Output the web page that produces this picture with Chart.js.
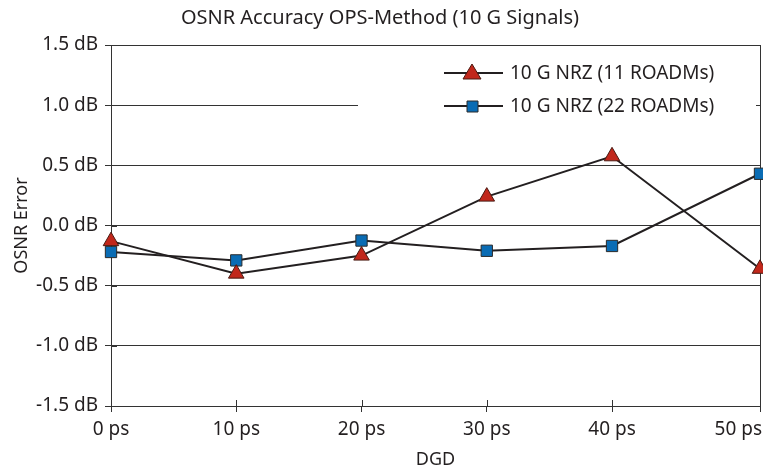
<!DOCTYPE html>
<html>
<head>
<meta charset="utf-8">
<script src="https://cdn.jsdelivr.net/npm/chart.js@4/dist/chart.umd.min.js"></script>
<style>
  html, body { margin: 0; padding: 0; background: #fff; }
  #wrap { width: 763px; height: 471px; }
</style>
</head>
<body>
<div id="wrap"><canvas id="chart"></canvas></div>
<script>
// DGD values (ps)
const dgd = [0, 10, 20, 30, 40, 50];
// OSNR error (dB)
const nrz11 = [-0.13, -0.40, -0.25, 0.24, 0.575, -0.36];
const nrz22 = [-0.22, -0.29, -0.125, -0.21, -0.17, 0.43];
const seriesNames = ['10 G NRZ (11 ROADMs)', '10 G NRZ (22 ROADMs)'];
const yTicks = [-1.5, -1.0, -0.5, 0.0, 0.5, 1.0, 1.5];

const lineColor = '#231f20';
const axisColor = '#333333';
const font = '"Noto Sans", "Open Sans", sans-serif';

// in the original the last step (40 -> 50 ps) is drawn wider than the others
class StretchScale extends Chart.LinearScale {
  getPixelForValue(value) {
    const knee = 40, share = 0.772;
    const f = value <= knee
      ? (value - this.min) / (knee - this.min) * share
      : share + (value - knee) / (this.max - knee) * (1 - share);
    return this.getPixelForDecimal(f);
  }
  getValueForPixel(pixel) {
    const knee = 40, share = 0.772;
    const f = this.getDecimalForPixel(pixel);
    return f <= share
      ? this.min + f / share * (knee - this.min)
      : knee + (f - share) / (1 - share) * (this.max - knee);
  }
}
StretchScale.id = 'stretch';
StretchScale.defaults = Chart.LinearScale.defaults;
Chart.register(StretchScale);

// white patch behind the legend (hides the 1.0 dB grid line on the right) + legend
const legendBox = {
  id: 'legendBox',
  beforeDatasetsDraw(chart) {
    const { ctx } = chart;
    const y = chart.scales.y.getPixelForValue(1.0);
    ctx.save();
    ctx.fillStyle = '#fff';
    ctx.fillRect(358, y - 3, 398, 6);
    ctx.restore();
  },
  afterDraw(chart) {
    const { ctx } = chart;
    ctx.save();
    const rows = [73, 106];
    chart.data.datasets.forEach((ds, i) => {
      const y = rows[i];
      ctx.strokeStyle = lineColor;
      ctx.lineWidth = 2;
      ctx.beginPath();
      ctx.moveTo(444, y);
      ctx.lineTo(503, y);
      ctx.stroke();
      ctx.fillStyle = ds.pointBackgroundColor;
      ctx.strokeStyle = ds.pointBorderColor;
      ctx.lineWidth = 1;
      ctx.beginPath();
      if (ds.pointStyle === 'triangle') {
        ctx.moveTo(472, y - 9);
        ctx.lineTo(481, y + 6);
        ctx.lineTo(463, y + 6);
        ctx.closePath();
      } else {
        ctx.rect(467, y - 5, 11, 11);
      }
      ctx.fill();
      ctx.stroke();
      ctx.fillStyle = lineColor;
      ctx.font = '19px ' + font;
      ctx.textBaseline = 'middle';
      ctx.fillText(ds.label, 510, y + 1);
    });
    ctx.restore();
  }
};

// small tick marks on the inside of both axes, and the x tick labels
// (last label right-aligned to its tick, as in the original)
const axisExtras = {
  id: 'axisExtras',
  afterDatasetsDraw(chart) {
    const { ctx, scales } = chart;
    ctx.save();
    ctx.strokeStyle = axisColor;
    ctx.lineWidth = 1;
    const bottom = scales.y.getPixelForValue(-1.5);
    scales.x.ticks.forEach(t => {
      const x = Math.round(scales.x.getPixelForValue(t.value)) + 0.5;
      ctx.beginPath();
      ctx.moveTo(x, bottom);
      ctx.lineTo(x, bottom - 6);
      ctx.stroke();
    });
    const left = scales.x.getPixelForValue(0);
    scales.y.ticks.forEach(t => {
      const y = Math.round(scales.y.getPixelForValue(t.value)) + 0.5;
      ctx.beginPath();
      ctx.moveTo(left, y);
      ctx.lineTo(left + 6, y);
      ctx.stroke();
    });
    ctx.fillStyle = lineColor;
    ctx.font = '19px ' + font;
    ctx.textBaseline = 'middle';
    dgd.forEach((v, i) => {
      const x = scales.x.getPixelForValue(v);
      ctx.textAlign = i === dgd.length - 1 ? 'right' : 'center';
      ctx.fillText(v + ' ps', i === dgd.length - 1 ? x + 2 : x, bottom + 24);
    });
    ctx.restore();
  }
};

new Chart(document.getElementById('chart'), {
  type: 'line',
  data: {
    datasets: [
      {
        label: seriesNames[0],
        data: dgd.map((x, i) => ({ x, y: nrz11[i] })),
        borderColor: lineColor,
        borderWidth: 2,
        pointStyle: 'triangle',
        pointRadius: 9,
        pointBackgroundColor: '#c1271b',
        pointBorderColor: '#4a1a12',
        pointBorderWidth: 1,
        tension: 0,
        clip: false
      },
      {
        label: seriesNames[1],
        data: dgd.map((x, i) => ({ x, y: nrz22[i] })),
        borderColor: lineColor,
        borderWidth: 2,
        pointStyle: 'rect',
        pointRadius: 8,
        pointBackgroundColor: '#0a6cb4',
        pointBorderColor: '#2a2a2a',
        pointBorderWidth: 1,
        tension: 0,
        clip: false
      }
    ]
  },
  options: {
    responsive: true,
    maintainAspectRatio: false,
    animation: false,
    layout: { autoPadding: false, padding: { left: 0, right: 3, top: 0, bottom: 0 } },
    plugins: {
      legend: { display: false },
      tooltip: { enabled: false },
      title: {
        display: true,
        text: 'OSNR Accuracy OPS-Method (10 G Signals)',
        color: lineColor,
        font: { family: font, size: 20, weight: 'normal' },
        padding: { top: 6, bottom: 15 }
      }
    },
    scales: {
      x: {
        type: 'stretch',
        min: 0,
        max: 50,
        afterBuildTicks: s => { s.ticks = dgd.map(v => ({ value: v })); },
        afterFit: s => { s.height = 65; s.paddingLeft = 0; s.paddingRight = 0; },
        border: { display: true, color: axisColor, width: 1 },
        grid: {
          drawOnChartArea: true,
          color: c => (c.tick && c.tick.value === 50) ? axisColor : 'rgba(0,0,0,0)',
          tickColor: axisColor,
          tickLength: 6
        },
        ticks: { display: false },
        title: {
          display: true,
          text: 'DGD',
          color: lineColor,
          font: { family: font, size: 18 },
          padding: { top: 0, bottom: 0 }
        }
      },
      y: {
        min: -1.5,
        max: 1.5,
        afterBuildTicks: s => { s.ticks = yTicks.map(v => ({ value: v })); },
        afterFit: s => { s.width = 111; },
        border: { display: true, color: axisColor, width: 1 },
        grid: {
          color: axisColor,
          tickColor: axisColor,
          tickLength: 6
        },
        ticks: {
          color: lineColor,
          padding: 7,
          font: { family: font, size: 19 },
          callback: v => v.toFixed(1) + ' dB'
        },
        title: {
          display: true,
          text: 'OSNR Error',
          color: lineColor,
          font: { family: font, size: 18 },
          padding: { top: 11, bottom: 11 }
        }
      }
    }
  },
  plugins: [legendBox, axisExtras]
});
</script>
</body>
</html>
